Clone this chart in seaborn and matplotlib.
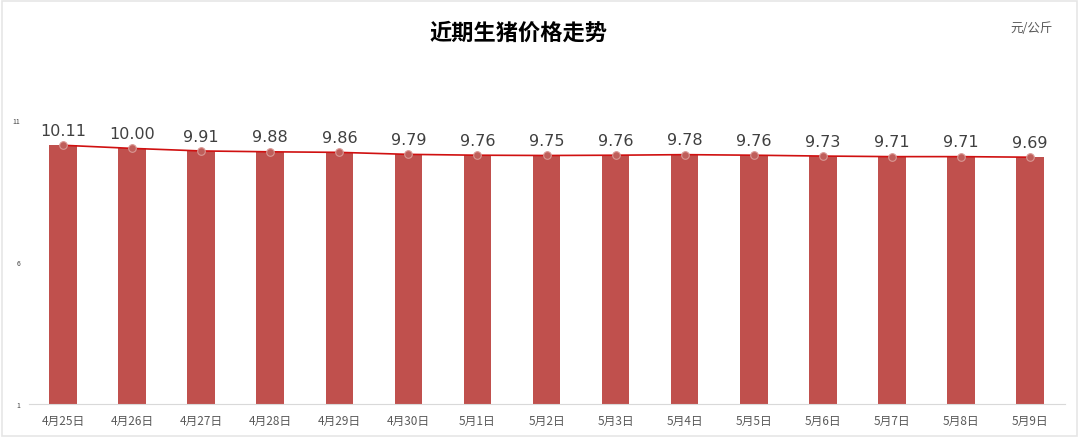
import numpy as np
import pandas as pd
import matplotlib
matplotlib.use('Agg')
import matplotlib.pyplot as plt
import seaborn as sns

# 数据
dates = ['4月25日', '4月26日', '4月27日', '4月28日', '4月29日', '4月30日', '5月1日', '5月2日',
         '5月3日', '5月4日', '5月5日', '5月6日', '5月7日', '5月8日', '5月9日']
prices = [10.11, 10.00, 9.91, 9.88, 9.86, 9.79, 9.76, 9.75, 9.76, 9.78, 9.76, 9.73, 9.71, 9.71, 9.69]
y_ticks = [1, 6, 11]

df = pd.DataFrame({'date': dates, 'price': prices})

sns.set_theme(style='white')
plt.rcParams['font.family'] = ['Noto Sans CJK SC', 'DejaVu Sans']

fig = plt.figure(figsize=(10.8, 4.39), dpi=100)
ax = fig.add_axes([0.0264, 0.0774, 0.9593, 0.647])

bar_base = 1
sns.barplot(data=df, x='date', y=df['price'] - bar_base, bottom=bar_base, color='#c0504d',
            saturation=1, width=0.4, linewidth=0, ax=ax)

x = np.arange(len(dates))
ax.plot(x, prices, color='#d01010', lw=1.2, zorder=3)
ax.scatter(x, prices, s=30, color='#bf5e5a', edgecolors='#d99894', linewidths=0.8, zorder=4)

for xi, v in zip(x, prices):
    ax.text(xi, v + 0.26, f'{v:.2f}', ha='center', va='bottom', fontsize=11.5,
            color='#404040', family=['DejaVu Sans'])

ax.set_xlim(-0.5, len(dates) - 0.5)
ax.set_ylim(1, 11)
ax.set_yticks(y_ticks)
ax.set_yticklabels([str(t) for t in y_ticks], fontsize=5, color='#404040')
ax.tick_params(axis='y', length=0, pad=6)
ax.set_xlabel('')
ax.set_ylabel('')
ax.set_xticks(x)
ax.set_xticklabels(dates, fontsize=8.5, color='#595959')
ax.tick_params(axis='x', which='major', length=0, pad=7)
ax.set_xticks(np.arange(-0.5, len(dates), 1), minor=True)
ax.tick_params(axis='x', which='minor', length=4, color='#d9d9d9', width=0.8, direction='out')

for s in ['top', 'right', 'left']:
    ax.spines[s].set_visible(False)
ax.spines['bottom'].set_color('#d9d9d9')
ax.spines['bottom'].set_linewidth(0.8)
ax.grid(False)

fig.text(0.48, 0.925, '近期生猪价格走势', ha='center', va='center', fontsize=16,
         fontweight='bold', color='#000000')
fig.text(0.975, 0.935, '元/公斤', ha='right', va='center', fontsize=9, color='#595959')

# 外边框
fig.patches.append(plt.Rectangle((0.002, 0.005), 0.995, 0.99, transform=fig.transFigure,
                                 fill=False, edgecolor='#e6e6e6', lw=1.2))

fig.savefig('out.png', dpi=100)
